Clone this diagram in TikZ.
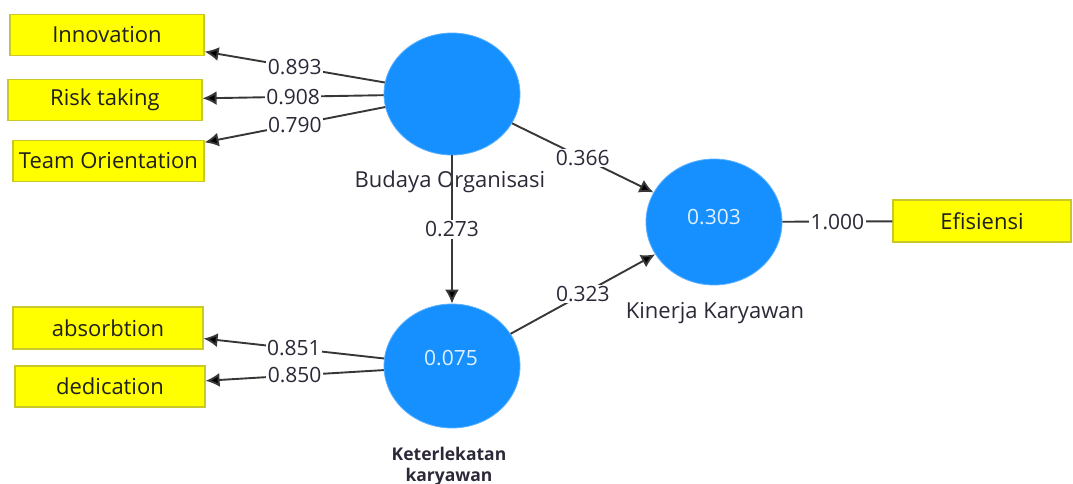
\documentclass[tikz,border=0pt]{standalone}
\usepackage{fontspec}
\setmainfont{Open Sans}
\usetikzlibrary{arrows.meta,shapes.geometric}
\definecolor{lvblue}{RGB}{22,144,255}
\definecolor{indyellow}{RGB}{255,255,0}
\definecolor{indborder}{RGB}{200,200,40}
\definecolor{linegray}{RGB}{55,55,55}
\definecolor{txtgray}{RGB}{45,40,55}
\definecolor{lvtext}{RGB}{225,240,255}
\begin{document}
\begin{tikzpicture}[x=1pt,y=-1pt,
  indbox/.style={draw=indborder,line width=1.2pt,fill=indyellow,rectangle,inner sep=0pt,
    font=\fontsize{22}{24}\selectfont,text=black!88},
  latent/.style={ellipse,fill=lvblue,draw=lvblue!70,line width=0.8pt,inner sep=0pt,
    minimum width=136pt},
  lvname/.style={font=\fontsize{22}{24}\selectfont,text=txtgray},
  lvval/.style={font=\fontsize{21}{23}\selectfont,text=lvtext},
  conn/.style={draw=linegray,line width=1.9pt},
  arr/.style={conn,-{Latex[length=14pt,width=14pt,fill=black]}},
  wt/.style={fill=white,inner sep=1.5pt,font=\fontsize{21}{23}\selectfont,text=txtgray}
]
\useasboundingbox (0,0) rectangle (1073,484);

% indicator boxes
\node[indbox,minimum width=194pt,minimum height=41pt] (innov) at (107,35) {Innovation};
\node[indbox,minimum width=194pt,minimum height=41pt] (risk) at (105,100) {Risk taking};
\node[indbox,minimum width=191pt,minimum height=41pt] (team) at (108.5,161) {Team Orientation};
\node[indbox,minimum width=190pt,minimum height=42pt] (absorb) at (108,328) {absorbtion};
\node[indbox,minimum width=190pt,minimum height=41pt] (dedic) at (110,386.5) {dedication};
\node[indbox,minimum width=178pt,minimum height=42pt] (efis) at (982,221) {Efisiensi};

% latent variables
\node[latent,minimum height=122pt] (budaya) at (452,94) {};
\node[latent,minimum height=124pt] (keter) at (452,366) {};
\node[latent,minimum height=126pt] (kinerja) at (714,222) {};

\node[lvval] (kinval) at (714,217) {0.303};
\node[lvval] (ketval) at (451,358) {0.075};

\node[lvname] (budname) at (450,182) {Budaya Organisasi};
\node[lvname] (kinname) at (715,313) {Kinerja Karyawan};
\node[font=\bfseries\fontsize{17.5}{21.5}\selectfont,text=txtgray,align=center] (ketname) at (449,466.5) {Keterlekatan\\karyawan};

% outer loadings
\draw[arr] (budaya) -- node[wt] (l1) {0.893} (innov);
\draw[arr] (budaya) -- node[wt] (l2) {0.908} (risk);
\draw[arr] (budaya) -- node[wt] (l3) {0.790} (team);
\draw[arr] (keter) -- node[wt] (l4) {0.851} (absorb);
\draw[arr] (keter) -- node[wt] (l5) {0.850} (dedic);
\draw[conn] (kinerja) -- node[wt] (l6) {1.000} (efis);

% structural paths
\draw[arr] (budaya) -- node[wt] (p1) {0.273} (keter);
\draw[arr] (budaya) -- node[wt] (p2) {0.366} (kinerja);
\draw[arr] (keter) -- node[wt] (p3) {0.323} (kinerja);
\end{tikzpicture}
\end{document}
